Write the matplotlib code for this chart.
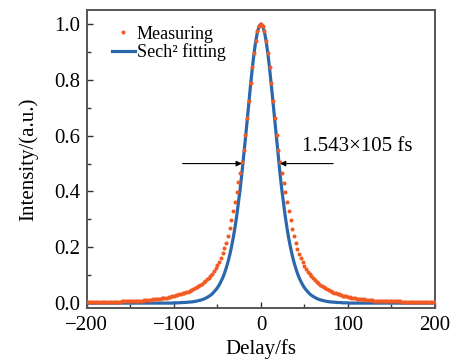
import numpy as np
import matplotlib
matplotlib.use("Agg")
import matplotlib.pyplot as plt
from matplotlib.ticker import MultipleLocator

plt.rcParams["font.family"] = ["Liberation Serif", "DejaVu Serif"]

# delay grid (fs), 2 fs steps
delay = np.arange(-200, 201, 2)

# measured autocorrelation, x = -200 ... -2
measured_left = [
    0.004, 0.004, 0.004, 0.004, 0.004, 0.004, 0.004, 0.004, 0.004,
    0.005, 0.005, 0.005, 0.005, 0.005, 0.005, 0.005, 0.005, 0.005, 0.005, 0.005,
    0.006, 0.006, 0.006, 0.006, 0.006, 0.006,
    0.007, 0.007, 0.007, 0.008,
    0.008, 0.009, 0.009,
    0.010, 0.010, 0.011,
    0.011, 0.012, 0.013, 0.013, 0.014, 0.015, 0.016,
    0.017, 0.018, 0.019, 0.020, 0.021, 0.023, 0.024, 0.026, 0.028, 0.029,
    0.031, 0.033, 0.035, 0.037, 0.039, 0.041, 0.044, 0.047, 0.050, 0.053,
    0.057, 0.061, 0.065, 0.069, 0.074, 0.079, 0.085, 0.091, 0.098, 0.106,
    0.115, 0.125, 0.136, 0.148, 0.162, 0.179, 0.196, 0.216, 0.240, 0.268,
    0.297, 0.330, 0.364, 0.398, 0.434, 0.465, 0.505, 0.548, 0.604, 0.664,
    0.724, 0.787, 0.845, 0.897, 0.941, 0.974, 0.994,
]
# measured autocorrelation, x = 0 ... 200
measured_right = [
    1.000, 0.994, 0.974, 0.941, 0.897, 0.845, 0.787, 0.726, 0.664, 0.604,
    0.548, 0.505, 0.465, 0.432, 0.398, 0.364, 0.330, 0.297, 0.266, 0.239,
    0.215, 0.195, 0.177, 0.161, 0.147, 0.134, 0.123, 0.113, 0.104, 0.096,
    0.089, 0.082, 0.076, 0.071, 0.066, 0.061, 0.057, 0.053, 0.049, 0.046,
    0.043, 0.040, 0.037, 0.035, 0.033, 0.031, 0.029, 0.027, 0.025, 0.024,
    0.022, 0.021, 0.020, 0.018, 0.017, 0.016, 0.015, 0.014, 0.013, 0.013,
    0.012, 0.011, 0.011, 0.010, 0.010, 0.009, 0.009, 0.009, 0.008, 0.008,
    0.008, 0.007, 0.007, 0.007, 0.007, 0.006, 0.006, 0.006, 0.006, 0.006,
    0.006, 0.005, 0.005, 0.005, 0.005, 0.005, 0.005, 0.005, 0.005, 0.005,
    0.005, 0.005, 0.004, 0.004, 0.004, 0.004, 0.004, 0.004, 0.004, 0.004,
    0.004,
]
# sech^2 fit, x = 0 ... 200 (symmetric)
fit_right = [
    1.000, 0.993, 0.972, 0.938, 0.893, 0.839, 0.779, 0.715, 0.649, 0.584,
    0.522, 0.462, 0.406, 0.356, 0.309, 0.268, 0.231, 0.199, 0.171, 0.146,
    0.125, 0.106, 0.090, 0.077, 0.065, 0.055, 0.047, 0.040, 0.033, 0.028,
    0.024, 0.020, 0.017, 0.014, 0.012, 0.010, 0.009, 0.007, 0.006, 0.005,
    0.004, 0.004, 0.003, 0.003, 0.002, 0.002, 0.002, 0.001, 0.001, 0.001,
    0.001,
] + [0.000] * 50

measured = np.array(measured_left + measured_right)
fit = np.array(fit_right[:0:-1] + fit_right)

fwhm_left, fwhm_right = -22, 22
label_text = "1.543×105 fs"

fig = plt.figure(figsize=(4.55, 3.61), dpi=100)
ax = fig.add_axes([0.191, 0.148, 0.765, 0.824])

ax.plot(delay, fit, color="#2b67ac", lw=2.3, label="Sech² fitting", zorder=2)
ax.plot(delay, measured, "o", ms=2.9, mec="none", color="#f25a22",
        label="Measuring", zorder=3)

arrow = dict(arrowstyle="-|>", color="k", lw=0.8, mutation_scale=8,
             shrinkA=0, shrinkB=0)
ax.annotate("", xy=(fwhm_left, 0.5), xytext=(-90, 0.5), arrowprops=arrow)
ax.annotate("", xy=(fwhm_right, 0.5), xytext=(83, 0.5), arrowprops=arrow)
ax.text(47, 0.563, label_text, fontsize=15, va="center", ha="left")

ax.set_xlim(-200, 200)
ax.set_ylim(-0.016, 1.05)
ax.xaxis.set_major_locator(MultipleLocator(100))
ax.xaxis.set_minor_locator(MultipleLocator(50))
ax.yaxis.set_major_locator(MultipleLocator(0.2))
ax.yaxis.set_minor_locator(MultipleLocator(0.1))
ax.yaxis.set_major_formatter(plt.FuncFormatter(lambda v, p: f"{v:.1f}"))
ax.xaxis.set_major_formatter(plt.FuncFormatter(lambda v, p: f"{v:.0f}".replace("-", "\u2212")))
ax.tick_params(which="both", direction="in", colors="#333333", width=1,
               labelsize=15, labelcolor="black")
ax.tick_params(axis="x", pad=6)
ax.tick_params(axis="y", pad=5)
ax.tick_params(which="major", length=4)
ax.tick_params(which="minor", length=3)
for s in ax.spines.values():
    s.set_color("#555555")
    s.set_linewidth(1.4)

ax.set_xlabel("Delay/fs", fontsize=15, labelpad=3)
ax.set_ylabel("Intensity/(a.u.)", fontsize=15, labelpad=11)

handles, labels = ax.get_legend_handles_labels()
ax.legend(handles[::-1], labels[::-1], loc="upper left", frameon=False,
          fontsize=13, handlelength=1.3, handletextpad=0.1,
          labelspacing=0.05, borderaxespad=0.3, bbox_to_anchor=(0.035, 0.99),
          markerscale=1.0)

fig.savefig("out.png", dpi=100)
